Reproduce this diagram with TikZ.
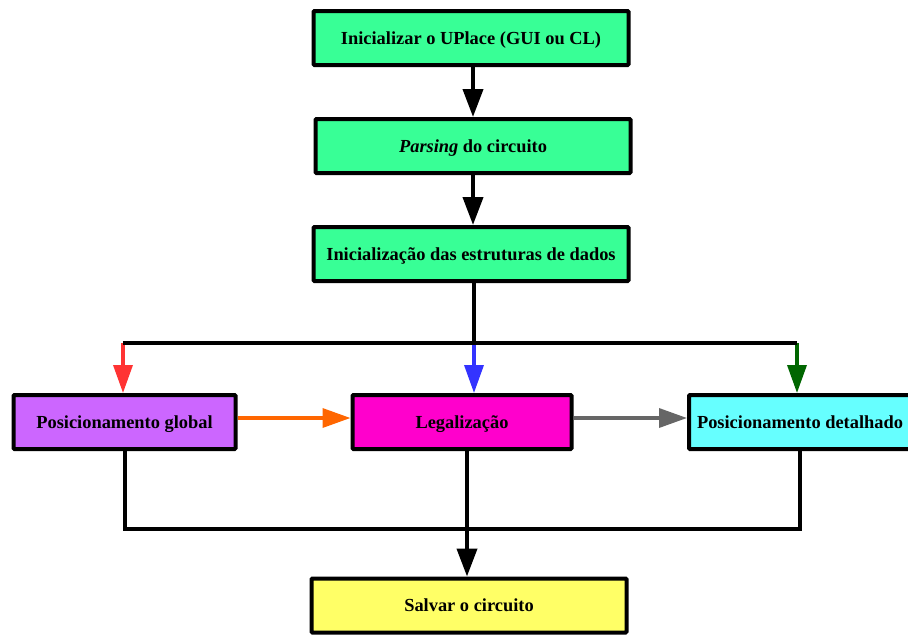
\documentclass[tikz,border=0pt]{standalone}
\usepackage{fontspec}
\setmainfont{Liberation Serif}
\usetikzlibrary{arrows.meta,positioning,calc}
\definecolor{boxgreen}{HTML}{38FF96}
\definecolor{boxviolet}{HTML}{CC66FF}
\definecolor{boxmagenta}{HTML}{FF00CC}
\definecolor{boxcyan}{HTML}{66FFFF}
\definecolor{boxyellow}{HTML}{FFFF66}
\definecolor{linkred}{HTML}{FF3333}
\definecolor{linkblue}{HTML}{3333FF}
\definecolor{linkgreen}{HTML}{006600}
\definecolor{linkorange}{HTML}{FF6600}
\definecolor{linkgray}{HTML}{666666}

\begin{document}
\begin{tikzpicture}[x=1pt,y=-1pt,
  stage/.style={draw, line width=4pt, rounded corners=1pt, inner sep=0pt,
    minimum height=54pt, text depth=0pt, font=\fontsize{18.4}{21}\selectfont\bfseries},
  wire/.style={line width=4pt},
  flow/.style={line width=4pt, -{Triangle[width=20pt,length=28pt]}},
  side/.style={line width=3.5pt, -{Triangle[width=19pt,length=28pt]}}]
\useasboundingbox (0,0) rectangle (908,635);
% boxes
\node[stage, fill=boxgreen, minimum width=315pt] (start) at (471,38) {Inicializar o UPlace (GUI ou CL)};
\node[stage, fill=boxgreen, minimum width=315pt] (parse) at (473,146) {\textit{Parsing} do circuito};
\node[stage, fill=boxgreen, minimum width=315pt] (init) at (471,254) {Inicialização das estruturas de dados};
\node[stage, fill=boxviolet, minimum width=222pt] (global) at (124.5,422) {Posicionamento global};
\node[stage, fill=boxmagenta, minimum width=219pt] (legal) at (462,422) {Legalização};
\node[stage, fill=boxcyan, minimum width=222pt] (detail) at (800,422) {Posicionamento detalhado};
\node[stage, fill=boxyellow, minimum width=315pt] (save) at (469,605.5) {Salvar o circuito};
% fork points
\coordinate (fork) at (474,343);
\coordinate (forkL) at (123,343);
\coordinate (forkR) at (797,343);
\coordinate (join) at (467,529);
% top chain
\draw[flow] (parse.north |- start.south) -- (parse.north);
\draw[flow] (parse.south) -- (parse.south |- init.north);
\draw[wire] (init.south -| fork) -- (fork);
\draw[side, linkred] (forkL) -- (forkL |- global.north);
\draw[side, linkblue] (fork) -- (fork |- legal.north);
\draw[side, linkgreen] (forkR) -- (forkR |- detail.north);
\draw[wire] (forkL) -- (forkR);
% sideways
\draw[side, linkorange] ([yshift=4pt]global.east) -- ([yshift=4pt]legal.west);
\draw[side, linkgray] ([yshift=4pt]legal.east) -- ([yshift=4pt]detail.west);
% merge
\draw[wire] (global.south) |- (join) -| (detail.south);
\draw[flow] (legal.south -| join) -- (join |- save.north);
\end{tikzpicture}
\end{document}
